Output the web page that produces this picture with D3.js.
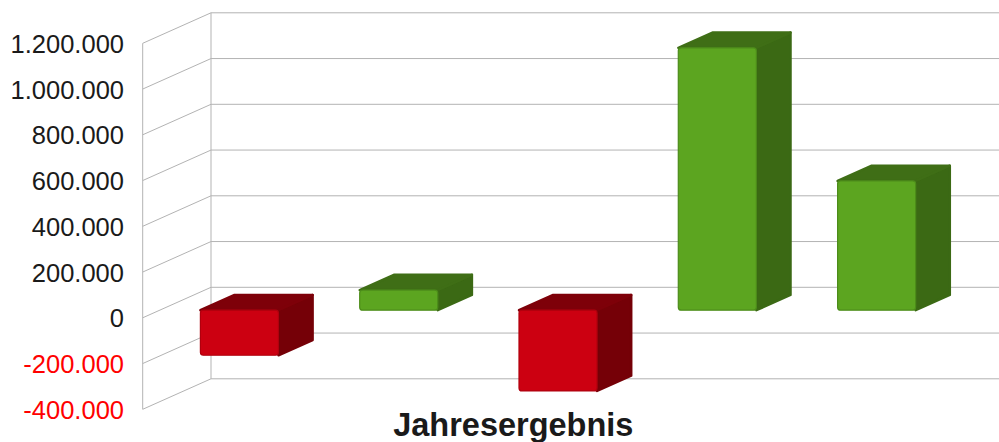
<!DOCTYPE html>
<html>
<head>
<meta charset="utf-8">
<script src="https://cdn.jsdelivr.net/npm/d3@7"></script>
<style>
  html, body { margin: 0; padding: 0; background: #ffffff; }
  svg { display: block; }
</style>
</head>
<body>
<svg id="chart" width="999" height="442"></svg>
<script>
// ---- data ----
const categories = ["1", "2", "3", "4", "5"];
const values = [-197000, 88000, -353000, 1147000, 565000];
const yTicks = [-400000, -200000, 0, 200000, 400000, 600000, 800000, 1000000, 1200000];
const title = "Jahresergebnis";

// ---- layout ----
const W = 999, H = 442;
const svg = d3.select("#chart");
const front = { left: 142.7, right: 939.2, top: 43.3, bottom: 409.3 };
const depth = { dx: 68.3, dy: -30.5 };
const barDepth = [0.25, 0.75];

const x = d3.scaleBand().domain(categories)
  .range([front.left, front.right])
  .paddingInner(0.51).paddingOuter(0.255);
const y = d3.scaleLinear().domain([-400000, 1200000]).range([front.bottom, front.top]);

const P = (px, v, d) => [px + d * depth.dx, y(v) + d * depth.dy];

const loc = d3.formatLocale({ decimal: ",", thousands: ".", grouping: [3], currency: ["", " €"], minus: "-" });
const fmt = loc.format(",d");

const gridColor = "#b3b3b3";
const grid = svg.append("g").attr("fill", "none").attr("stroke", gridColor).attr("stroke-width", 1);

// back wall horizontal lines + floor diagonals
yTicks.forEach(v => {
  const a = P(front.left, v, 0), b = P(front.left, v, 1);
  grid.append("line").attr("x1", a[0]).attr("y1", a[1]).attr("x2", b[0]).attr("y2", b[1]);
  grid.append("line").attr("x1", b[0]).attr("y1", b[1]).attr("x2", W + 20).attr("y2", b[1]);
});
// wall verticals
{
  const t0 = P(front.left, 1200000, 0), b0 = P(front.left, -400000, 0);
  const t1 = P(front.left, 1200000, 1), b1 = P(front.left, -400000, 1);
  grid.append("line").attr("x1", t0[0]).attr("y1", t0[1]).attr("x2", b0[0]).attr("y2", b0[1]);
  grid.append("line").attr("x1", t1[0]).attr("y1", t1[1]).attr("x2", b1[0]).attr("y2", b1[1]);
}

// y-axis labels
svg.append("g").selectAll("text").data(yTicks).join("text")
  .attr("x", 124)
  .attr("y", d => y(d) + 9.5)
  .attr("text-anchor", "end")
  .attr("font-family", "'Liberation Sans', Arial, sans-serif")
  .attr("font-size", 25.5)
  .attr("fill", d => d < 0 ? "#ff0000" : "#1a1a1a")
  .text(d => fmt(d));

// bars
const pal = {
  pos: { front: "#5ca520", frontStroke: "#4c8c1a", side: "#3b6914", top: "#3f6e16" },
  neg: { front: "#cc0011", frontStroke: "#b0000e", side: "#750007", top: "#7e0009" }
};
const poly = pts => pts.map(p => p.join(",")).join(" ");
const bars = svg.append("g");
categories.forEach((c, i) => {
  const v = values[i];
  const col = v >= 0 ? pal.pos : pal.neg;
  const x0 = x(c), x1 = x(c) + x.bandwidth();
  const vt = Math.max(0, v), vb = Math.min(0, v);
  const [d0, d1] = barDepth;
  const g = bars.append("g").attr("stroke-linejoin", "round");
  // side face
  g.append("polygon")
    .attr("points", poly([P(x1, vt, d0), P(x1, vt, d1), P(x1, vb, d1), P(x1, vb, d0)]))
    .attr("fill", col.side).attr("stroke", col.side).attr("stroke-width", 2.5);
  // top face
  g.append("polygon")
    .attr("points", poly([P(x0, vt, d0), P(x0, vt, d1), P(x1, vt, d1), P(x1, vt, d0)]))
    .attr("fill", col.top).attr("stroke", col.top).attr("stroke-width", 2.5);
  // front face
  const f0 = P(x0, vt, d0), f1 = P(x1, vb, d0);
  g.append("rect")
    .attr("x", f0[0]).attr("y", f0[1])
    .attr("width", f1[0] - f0[0]).attr("height", f1[1] - f0[1])
    .attr("rx", 3).attr("ry", 3)
    .attr("fill", col.front).attr("stroke", col.frontStroke).attr("stroke-width", 1.2);
});

// title
svg.append("text")
  .attr("x", 513.3).attr("y", 436)
  .attr("text-anchor", "middle")
  .attr("font-family", "'Liberation Sans', Arial, sans-serif")
  .attr("font-weight", "bold")
  .attr("font-size", 32.5)
  .attr("fill", "#1a1a1a")
  .text(title);
</script>
</body>
</html>
